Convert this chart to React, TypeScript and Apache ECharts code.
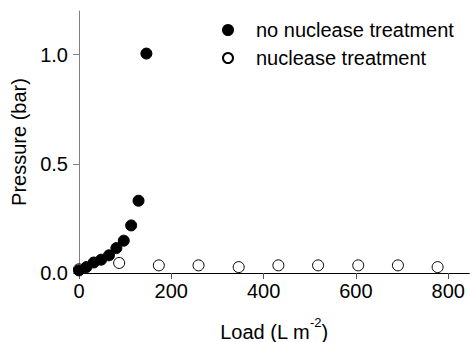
import React, { useEffect, useRef } from "react";
import * as echarts from "echarts";

const noNucleaseLoad = [0, 16, 32, 48, 65, 81, 97, 113, 129, 146];
const noNucleasePressure = [0.012, 0.027, 0.048, 0.061, 0.081, 0.114, 0.148, 0.218, 0.331, 1.005];
const nucleaseLoad = [0, 87, 173, 259, 346, 432, 518, 605, 691, 777];
const nucleasePressure = [0.017, 0.046, 0.035, 0.035, 0.027, 0.035, 0.035, 0.035, 0.035, 0.027];
const xTicks = [0, 200, 400, 600, 800];
const yTicks = [0, 0.5, 1.0];

const FONT = "'Liberation Sans', Arial, sans-serif";

export default function App() {
  const ref = useRef<HTMLDivElement>(null);
  useEffect(() => {
    if (!ref.current) return;
    const chart = echarts.init(ref.current, null, { renderer: "svg" });
    const pair = (xs: number[], ys: number[]) => xs.map((x, i) => [x, ys[i]]);
    chart.setOption({
      animation: false,
      textStyle: { fontFamily: FONT },
      grid: { left: 79, right: 1, top: 11, bottom: 69, containLabel: false, outerBoundsMode: "none" },
      legend: {
        orient: "vertical",
        left: 217,
        top: 15,
        itemWidth: 10,
        itemHeight: 10,
        itemGap: 8,
        textStyle: { fontSize: 20, color: "#000", fontFamily: FONT, padding: [0, 0, 0, 18] },
        data: [
          { name: "no nuclease treatment", icon: "circle" },
          { name: "nuclease treatment", icon: "circle" },
        ],
      },
      xAxis: [
        {
          type: "value",
          min: 0,
          max: 845,
          interval: 200,
          name: "{a|Load (L m}{sup|-2}{a|)}",
          nameLocation: "middle",
          nameGap: 43,
          nameTextStyle: {
            fontSize: 20,
            color: "#000",
            fontFamily: FONT,
            rich: {
              a: { fontSize: 20, lineHeight: 26, verticalAlign: "bottom", color: "#000", fontFamily: FONT },
              sup: { fontSize: 13, lineHeight: 13, verticalAlign: "top", color: "#000", fontFamily: FONT },
            },
          },
          axisLine: { show: true, onZero: false, lineStyle: { color: "#000", width: 1 } },
          axisTick: { show: true, length: 6, lineStyle: { color: "#555" }, customValues: xTicks },
          axisLabel: {
            fontSize: 20,
            color: "#000",
            margin: 8,
            customValues: xTicks,
            formatter: (v: number) => String(v),
          },
          splitLine: { show: false },
        },
        {
          type: "value",
          position: "top",
          min: 0,
          max: 845,
          axisLine: { show: true, lineStyle: { color: "#000", width: 1 } },
          axisTick: { show: false },
          axisLabel: { show: false },
          splitLine: { show: false },
        },
      ],
      yAxis: {
        type: "value",
        min: 0,
        max: 1.2,
        interval: 0.5,
        name: "Pressure (bar)",
        nameLocation: "middle",
        nameGap: 48,
        nameTextStyle: { fontSize: 20, color: "#000", fontFamily: FONT },
        axisLine: { show: true, onZero: false, lineStyle: { color: "#808080", width: 1 } },
        axisTick: { show: true, length: 6, lineStyle: { color: "#808080" }, customValues: yTicks },
        axisLabel: {
          fontSize: 20,
          color: "#000",
          margin: 11,
          customValues: yTicks,
          formatter: (v: number) => v.toFixed(1),
        },
        splitLine: { show: false },
      },
      series: [
        {
          name: "nuclease treatment",
          type: "scatter",
          xAxisIndex: 0,
          symbol: "circle",
          symbolSize: 11,
          clip: false,
          z: 2,
          itemStyle: { color: "#fff", borderColor: "#000", borderWidth: 1, opacity: 1 },
          data: pair(nucleaseLoad, nucleasePressure),
        },
        {
          name: "no nuclease treatment",
          type: "scatter",
          xAxisIndex: 0,
          symbol: "circle",
          symbolSize: 11,
          clip: false,
          z: 3,
          itemStyle: { color: "#000", borderColor: "#000", borderWidth: 1, opacity: 1 },
          data: pair(noNucleaseLoad, noNucleasePressure),
        },
      ],
    });
    return () => chart.dispose();
  }, []);
  return (
    <div
      ref={ref}
      style={{ position: "fixed", left: 0, top: 0, width: 470, height: 342, background: "#fff" }}
    />
  );
}
